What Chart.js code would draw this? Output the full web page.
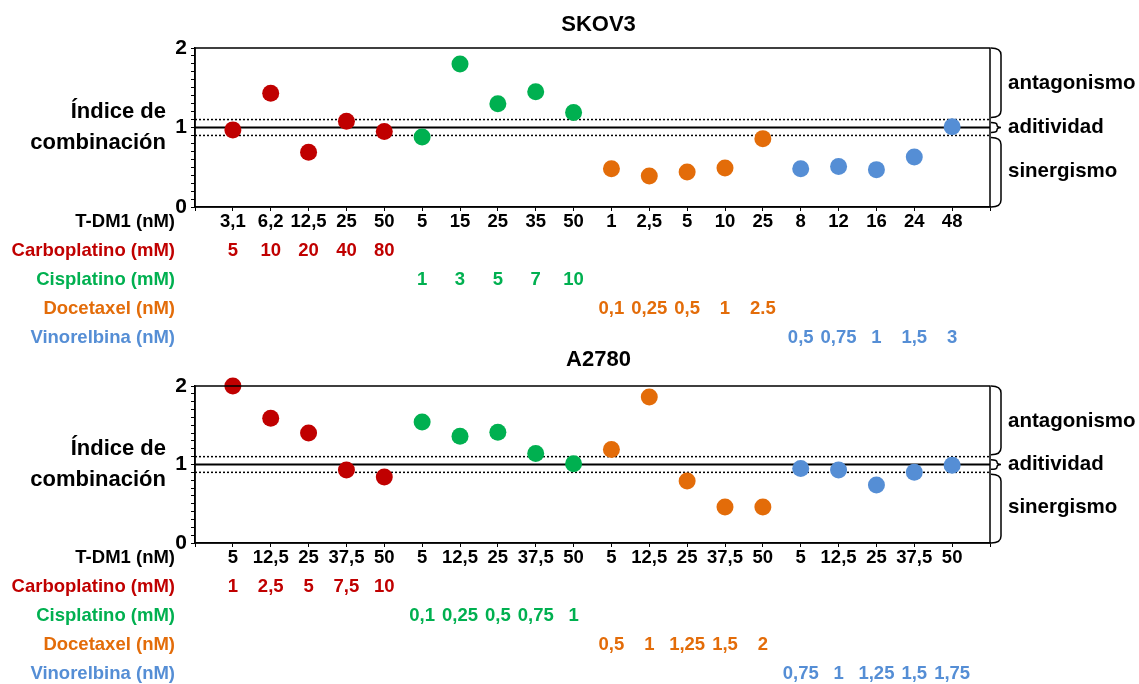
<!DOCTYPE html>
<html>
<head>
<meta charset="utf-8">
<script src="https://cdn.jsdelivr.net/npm/chart.js@4"></script>
<style>
  body { margin: 0; background: #fff; }
  canvas { display: block; }
</style>
</head>
<body>
<canvas id="skov3" width="1139" height="348"></canvas>
<canvas id="a2780" width="1139" height="336"></canvas>
<script>
const FONT = '"Liberation Sans", Arial, sans-serif';

// row names and colours
const rowNames = ["Carboplatino (mM)", "Cisplatino (mM)", "Docetaxel (nM)", "Vinorelbina (nM)"];
const drugColors = ["#C00000", "#00B050", "#E36C09", "#558ED5"];

// SKOV3 - T-DM1 doses and partner drug doses
const skovTdm1 = ["3,1", "6,2", "12,5", "25", "50", "5", "15", "25", "35", "50",
                  "1", "2,5", "5", "10", "25", "8", "12", "16", "24", "48"];
const skovCarboDose = ["5", "10", "20", "40", "80"];
const skovCisDose = ["1", "3", "5", "7", "10"];
const skovDoceDose = ["0,1", "0,25", "0,5", "1", "2.5"];
const skovVinoDose = ["0,5", "0,75", "1", "1,5", "3"];

// SKOV3 - combination index
const skovCarbo = [0.97, 1.43, 0.69, 1.08, 0.95];
const skovCis = [0.88, 1.80, 1.30, 1.45, 1.19];
const skovDoce = [0.48, 0.39, 0.44, 0.49, 0.86];
const skovVino = [0.48, 0.51, 0.47, 0.63, 1.01];

// A2780 - T-DM1 doses and partner drug doses
const a27Tdm1 = ["5", "12,5", "25", "37,5", "50", "5", "12,5", "25", "37,5", "50",
                 "5", "12,5", "25", "37,5", "50", "5", "12,5", "25", "37,5", "50"];
const a27CarboDose = ["1", "2,5", "5", "7,5", "10"];
const a27CisDose = ["0,1", "0,25", "0,5", "0,75", "1"];
const a27DoceDose = ["0,5", "1", "1,25", "1,5", "2"];
const a27VinoDose = ["0,75", "1", "1,25", "1,5", "1,75"];

// A2780 - combination index
const a27Carbo = [2.00, 1.59, 1.40, 0.93, 0.84];
const a27Cis = [1.54, 1.36, 1.41, 1.14, 1.01];
const a27Doce = [1.19, 1.86, 0.79, 0.46, 0.46];
const a27Vino = [0.95, 0.93, 0.74, 0.90, 0.99];

// reference levels: additivity band
const refLines = [1, 1.1, 0.9];

const rowOffsets = [44, 73, 102, 131];

// right-facing bracket; small ones get a middle point
function drawBrace(ctx, x, y1, y2, w, pointed) {
  const ym = (y1 + y2) / 2;
  const r = Math.min(7, (y2 - y1) / 4);
  const xm = pointed ? x + w * 0.6 : x + w;
  ctx.beginPath();
  ctx.moveTo(x, y1);
  ctx.quadraticCurveTo(xm, y1, xm, y1 + r);
  if (pointed) {
    ctx.lineTo(xm, ym - r);
    ctx.quadraticCurveTo(xm, ym, x + w, ym);
    ctx.quadraticCurveTo(xm, ym, xm, ym + r);
  }
  ctx.lineTo(xm, y2 - r);
  ctx.quadraticCurveTo(xm, y2, x, y2);
  ctx.stroke();
}

const panelPlugin = {
  id: "panel",
  afterDraw(chart, args, opts) {
    const ctx = chart.ctx;
    const area = chart.chartArea;
    const xs = chart.scales.x;
    const ys = chart.scales.y;
    ctx.save();

    // plot frame
    ctx.strokeStyle = "#000";
    ctx.lineWidth = 1.5;
    ctx.strokeRect(area.left, area.top, area.right - area.left, area.bottom - area.top);

    // panel title
    ctx.fillStyle = "#000";
    ctx.font = "bold 22px " + FONT;
    ctx.textAlign = "center";
    ctx.textBaseline = "middle";
    ctx.fillText(opts.title, (area.left + area.right) / 2 + 6, opts.titleY);

    // y title
    const y1 = ys.getPixelForValue(1);
    ctx.font = "bold 22px " + FONT;
    ctx.textAlign = "right";
    ctx.fillText("Índice de", 166, y1 - 16);
    ctx.fillText("combinación", 166, y1 + 15);

    // dose rows
    ctx.font = "bold 18.5px " + FONT;
    ctx.fillText("T-DM1 (nM)", 175, area.bottom + 15);
    rowNames.forEach((name, r) => {
      const ry = area.bottom + rowOffsets[r];
      ctx.fillStyle = drugColors[r];
      ctx.textAlign = "right";
      ctx.fillText(name, 175, ry);
      ctx.textAlign = "center";
      opts.rows[r].forEach((lab, i) => {
        ctx.fillText(lab, xs.getPixelForValue(r * 5 + i + 1), ry);
      });
    });

    // brackets on the right
    ctx.strokeStyle = "#000";
    ctx.lineWidth = 1.5;
    const bx = area.right + 1;
    const yHi = ys.getPixelForValue(1.1);
    const yLo = ys.getPixelForValue(0.9);
    drawBrace(ctx, bx, area.top, yHi - 2, 10, false);
    drawBrace(ctx, bx, yHi + 3, yLo - 3, 10, true);
    drawBrace(ctx, bx, yLo + 2, area.bottom, 10, false);

    ctx.fillStyle = "#000";
    ctx.font = "bold 20.5px " + FONT;
    ctx.textAlign = "left";
    ctx.fillText("antagonismo", 1008, (area.top + yHi) / 2);
    ctx.fillText("aditividad", 1008, (yHi + yLo) / 2);
    ctx.fillText("sinergismo", 1008, (yLo + area.bottom) / 2);

    ctx.restore();
  }
};

function points(values, offset) {
  return values.map((v, i) => ({ x: offset + i + 1, y: v }));
}

function makePanel(canvasId, title, titleY, topPad, tdm1, series, rows) {
  const datasets = series.map((vals, k) => ({
    data: points(vals, k * 5),
    backgroundColor: drugColors[k],
    borderWidth: 0,
    pointRadius: 8.5,
    clip: false,
    order: 1
  }));
  refLines.forEach((v, k) => {
    datasets.push({
      type: "line",
      data: [{ x: 0, y: v }, { x: 21, y: v }],
      borderColor: "#000",
      borderWidth: k === 0 ? 2 : 1.5,
      borderDash: k === 0 ? [] : [2, 2],
      pointRadius: 0,
      fill: false,
      order: 2
    });
  });

  new Chart(document.getElementById(canvasId), {
    type: "scatter",
    data: { datasets: datasets },
    options: {
      responsive: false,
      animation: false,
      layout: { padding: { top: topPad, right: 149, left: 0, bottom: 0 } },
      plugins: {
        legend: { display: false },
        tooltip: { enabled: false },
        panel: { title: title, titleY: titleY, rows: rows }
      },
      scales: {
        x: {
          type: "linear",
          min: 0,
          max: 21,
          afterFit: (scale) => { scale.height = 141; },
          border: { color: "#000", width: 1.5 },
          grid: { drawOnChartArea: false, tickLength: 4, color: "#000" },
          ticks: {
            stepSize: 1,
            autoSkip: false,
            maxRotation: 0,
            padding: 0,
            color: "#000",
            font: { family: FONT, size: 18.5, weight: "bold" },
            callback: (v) => (v >= 1 && v <= 20 ? tdm1[v - 1] : "")
          }
        },
        y: {
          min: 0,
          max: 2,
          afterFit: (scale) => { scale.width = 195; },
          border: { color: "#000", width: 1.5 },
          grid: { drawOnChartArea: false, tickLength: 4, color: "#000" },
          ticks: {
            stepSize: 0.1,
            autoSkip: false,
            maxTicksLimit: 25,
            padding: 4,
            color: "#000",
            font: { family: FONT, size: 21, weight: "bold" },
            callback: (v) => (Math.abs(v - Math.round(v)) < 1e-6 ? String(Math.round(v)) : "")
          }
        }
      }
    },
    plugins: [panelPlugin]
  });
}

makePanel("skov3", "SKOV3", 25, 48, skovTdm1,
  [skovCarbo, skovCis, skovDoce, skovVino],
  [skovCarboDose, skovCisDose, skovDoceDose, skovVinoDose]);

makePanel("a2780", "A2780", 12, 38, a27Tdm1,
  [a27Carbo, a27Cis, a27Doce, a27Vino],
  [a27CarboDose, a27CisDose, a27DoceDose, a27VinoDose]);
</script>
</body>
</html>
